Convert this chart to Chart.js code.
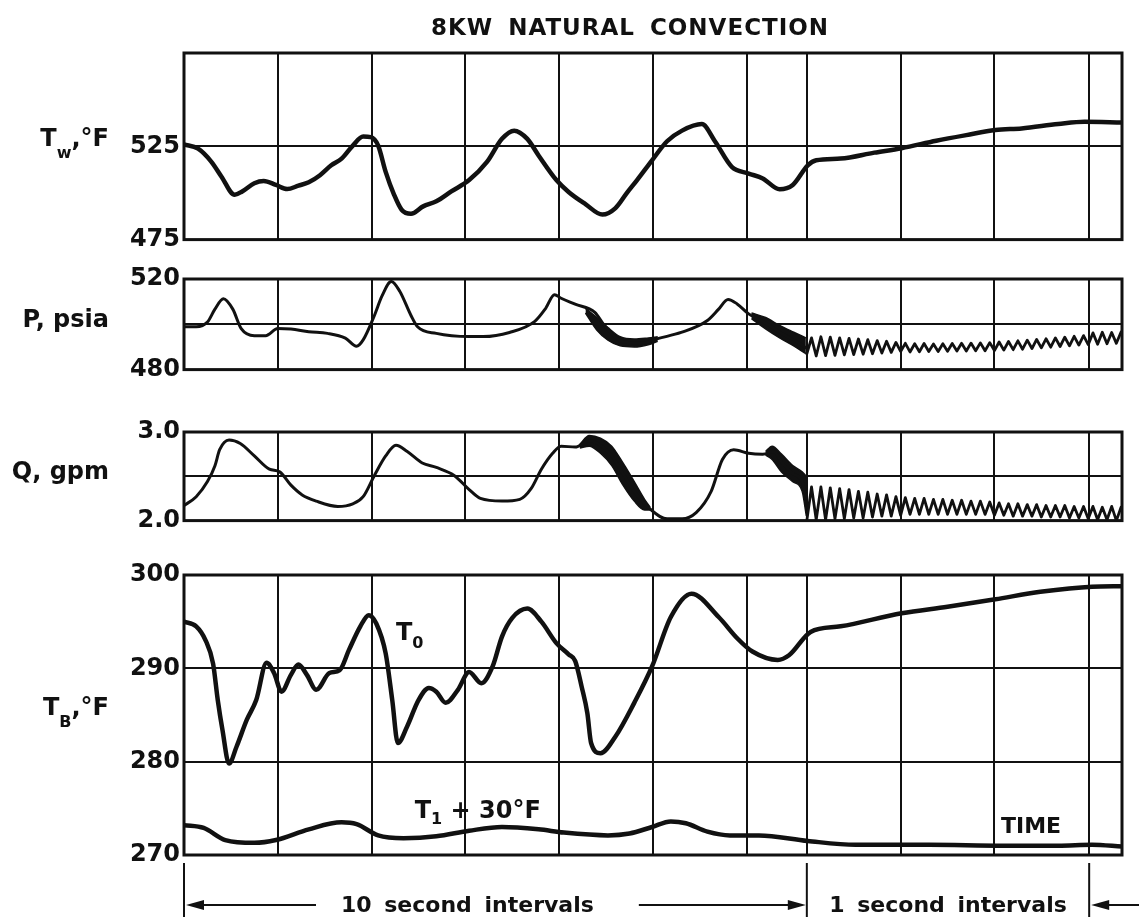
<!DOCTYPE html>
<html>
<head>
<meta charset="utf-8">
<title>8KW Natural Convection</title>
<script src="https://cdn.jsdelivr.net/npm/chart.js@4.4.1/dist/chart.umd.min.js"></script>
<style>
  html, body { margin: 0; padding: 0; background: #fff; }
  #sheet { position: relative; width: 1139px; height: 917px; overflow: hidden; background: #fff; }
  #sheet canvas { position: absolute; left: 0; }
</style>
</head>
<body>
<div id="sheet">
  <canvas id="twChart" width="1139" height="258" style="top:0px"></canvas>
  <canvas id="pChart" width="1139" height="132" style="top:256px"></canvas>
  <canvas id="qChart" width="1139" height="134" style="top:405px"></canvas>
  <canvas id="tbChart" width="1139" height="372" style="top:545px"></canvas>
</div>
<script>
// x is measured in recorder divisions: 0..6.64 runs at 10 s per division,
// 6.64..10 at 1 s per division
const xGrid = [0, 1, 2, 3, 4, 5, 6, 6.64, 7.64, 8.64, 9.65, 10];

// wall temperature, deg F
const twTrace = [
  [0, 526], [0.15, 523.7], [0.29, 516.8], [0.40, 508.7], [0.54, 499], [0.62, 500.8],
  [0.75, 505.2], [0.85, 506.4], [0.98, 504.3], [1.10, 502.1], [1.22, 503.9], [1.33, 505.7],
  [1.45, 509.5], [1.57, 514.8], [1.68, 518.4], [1.80, 525.4], [1.91, 530.2], [1.99, 529.9],
  [2.07, 525.4], [2.15, 511.3], [2.24, 499], [2.32, 491], [2.42, 488.8], [2.55, 492.8],
  [2.69, 495.5], [2.85, 500.8], [3.04, 506.9], [3.23, 516.6], [3.39, 529], [3.52, 533.4],
  [3.66, 529], [3.78, 520.1], [3.97, 506.9], [4.10, 500.5], [4.28, 494], [4.46, 488.4],
  [4.60, 491.9], [4.72, 499.9], [4.83, 506.9], [4.99, 517.5], [5.15, 527.7], [5.31, 533.4],
  [5.52, 536.9], [5.66, 527.7], [5.84, 514], [6.02, 510.4], [6.17, 507.8], [6.35, 502],
  [6.49, 504.3], [6.65, 514.8], [6.74, 517.5], [7.0, 518.4], [7.36, 521.6], [7.65, 524],
  [8.02, 528], [8.34, 531], [8.65, 533.7], [8.93, 534.6], [9.32, 536.9], [9.60, 538.1], [10, 537.8]
];

// pressure, psia
const pressureSlow = [
  [0, 498.9], [0.13, 498.9], [0.25, 501], [0.33, 506.7], [0.42, 511.3], [0.52, 506.7],
  [0.61, 498.1], [0.75, 495], [0.87, 495], [1.0, 498.1], [1.14, 497.9], [1.33, 496.7],
  [1.53, 496], [1.72, 493.9], [1.84, 490.3], [1.91, 493.1], [2.03, 503.9], [2.11, 512.4],
  [2.21, 518.9], [2.30, 514.6], [2.42, 503.9], [2.49, 498.9], [2.69, 496], [3.04, 494.6],
  [3.19, 494.6], [3.47, 496.4], [3.74, 501.3], [3.85, 506.7], [3.95, 513.1], [4.02, 511.5],
  [4.17, 508.9], [4.38, 505.3], [4.48, 499.6], [4.67, 492.4], [4.87, 491.7], [5.07, 493.9],
  [5.30, 496.4], [5.58, 501.7], [5.70, 506.7], [5.80, 511], [5.90, 508.9], [6.02, 504.6],
  [6.21, 500.3], [6.37, 496], [6.53, 492.4], [6.63, 489.6]
];
const pressureFast = [
  [6.64, 487.0], [6.69, 494.0], [6.74, 486.0], [6.79, 494.5], [6.84, 486.2], [6.89, 494.3],
  [6.94, 486.3], [6.99, 494.0], [7.04, 486.5], [7.09, 493.8], [7.14, 486.6], [7.19, 493.5],
  [7.24, 486.8], [7.29, 493.2], [7.34, 487.0], [7.39, 492.8], [7.44, 487.3], [7.49, 492.5],
  [7.54, 487.6], [7.59, 492.0], [7.64, 488.0], [7.69, 491.6], [7.74, 487.8], [7.79, 491.4],
  [7.84, 487.9], [7.89, 491.5], [7.94, 488.0], [7.99, 491.3], [8.04, 488.0], [8.09, 491.4],
  [8.14, 488.1], [8.19, 491.5], [8.24, 488.2], [8.29, 491.6], [8.34, 488.2], [8.39, 491.7],
  [8.44, 488.3], [8.49, 491.8], [8.54, 488.3], [8.59, 491.9], [8.64, 488.4], [8.69, 492.2],
  [8.74, 488.6], [8.79, 492.4], [8.84, 488.8], [8.89, 492.7], [8.94, 489.0], [8.99, 493.0],
  [9.04, 489.3], [9.09, 493.3], [9.14, 489.6], [9.19, 493.6], [9.24, 489.9], [9.29, 494.0],
  [9.34, 490.2], [9.39, 494.3], [9.44, 490.5], [9.49, 494.7], [9.54, 490.8], [9.59, 495.0],
  [9.64, 491.0], [9.69, 496.2], [9.74, 491.2], [9.79, 496.5], [9.84, 491.4], [9.89, 496.4],
  [9.94, 491.6], [9.99, 496.6]
];
// smeared stretches of the pressure trace: [x, low, high]
const pressureNoise = [
  [[4.28, 505, 507], [4.40, 497.5, 503], [4.52, 493, 498.5], [4.65, 490.5, 494.5],
   [4.80, 490, 493.5], [4.95, 491, 494], [5.05, 492.5, 494.5]],
  [[6.05, 502.5, 505], [6.20, 498, 503], [6.35, 494, 499.5], [6.50, 490.5, 496.5], [6.63, 487, 494]]
];

// flow, gpm
const flowSlow = [
  [0, 2.17], [0.13, 2.27], [0.25, 2.44], [0.33, 2.62], [0.38, 2.80], [0.48, 2.91],
  [0.60, 2.87], [0.75, 2.73], [0.91, 2.58], [1.02, 2.55], [1.14, 2.40], [1.26, 2.29],
  [1.41, 2.22], [1.64, 2.16], [1.80, 2.19], [1.91, 2.27], [2.03, 2.51], [2.15, 2.73],
  [2.26, 2.85], [2.38, 2.78], [2.54, 2.65], [2.69, 2.60], [2.88, 2.51], [3.04, 2.35],
  [3.16, 2.25], [3.39, 2.22], [3.58, 2.24], [3.70, 2.36], [3.81, 2.58], [3.93, 2.76],
  [4.02, 2.84], [4.17, 2.83], [4.32, 2.90], [4.44, 2.85], [4.56, 2.73], [4.68, 2.53],
  [4.80, 2.33], [4.95, 2.15], [5.15, 2.02], [5.31, 2.02], [5.46, 2.09], [5.62, 2.33],
  [5.74, 2.69], [5.86, 2.80], [6.02, 2.76], [6.17, 2.75], [6.29, 2.78], [6.37, 2.66],
  [6.49, 2.53], [6.59, 2.44], [6.63, 2.25]
];
const flowFast = [
  [6.64, 2.00], [6.69, 2.38], [6.74, 2.01], [6.79, 2.38], [6.84, 2.01], [6.89, 2.37],
  [6.94, 2.02], [6.99, 2.36], [7.04, 2.02], [7.09, 2.35], [7.14, 2.03], [7.19, 2.33],
  [7.24, 2.03], [7.29, 2.32], [7.34, 2.04], [7.39, 2.30], [7.44, 2.05], [7.49, 2.29],
  [7.54, 2.05], [7.59, 2.27], [7.64, 2.06], [7.69, 2.26], [7.74, 2.07], [7.79, 2.25],
  [7.84, 2.07], [7.89, 2.25], [7.94, 2.07], [7.99, 2.24], [8.04, 2.07], [8.09, 2.24],
  [8.14, 2.07], [8.19, 2.23], [8.24, 2.07], [8.29, 2.23], [8.34, 2.07], [8.39, 2.22],
  [8.44, 2.07], [8.49, 2.22], [8.54, 2.07], [8.59, 2.21], [8.64, 2.06], [8.69, 2.20],
  [8.74, 2.06], [8.79, 2.19], [8.84, 2.05], [8.89, 2.19], [8.94, 2.05], [8.99, 2.18],
  [9.04, 2.05], [9.09, 2.18], [9.14, 2.04], [9.19, 2.17], [9.24, 2.04], [9.29, 2.17],
  [9.34, 2.04], [9.39, 2.17], [9.44, 2.03], [9.49, 2.16], [9.54, 2.03], [9.59, 2.16],
  [9.64, 2.02], [9.69, 2.16], [9.74, 2.01], [9.79, 2.15], [9.84, 2.01], [9.89, 2.16],
  [9.94, 2.00], [9.99, 2.15]
];
const flowNoise = [
  [[4.22, 2.82, 2.86], [4.32, 2.84, 2.96], [4.44, 2.76, 2.93], [4.56, 2.62, 2.84],
   [4.68, 2.40, 2.65], [4.80, 2.22, 2.44], [4.91, 2.12, 2.24], [4.97, 2.12, 2.15]],
  [[6.20, 2.74, 2.78], [6.27, 2.69, 2.84], [6.37, 2.55, 2.75], [6.49, 2.44, 2.62],
   [6.59, 2.33, 2.55], [6.635, 2.05, 2.50]]
];

// bulk temperatures, deg F
const outletTrace = [
  [0, 295.0], [0.13, 294.5], [0.23, 293.0], [0.31, 290.5], [0.36, 286.6], [0.41, 283.4],
  [0.48, 279.8], [0.56, 281.6], [0.67, 284.5], [0.77, 286.6], [0.88, 290.6], [0.96, 289.5],
  [1.04, 287.5], [1.14, 289.3], [1.22, 290.4], [1.31, 289.3], [1.41, 287.7], [1.55, 289.5],
  [1.66, 289.8], [1.76, 292.0], [1.88, 294.5], [1.97, 295.7], [2.05, 294.8], [2.15, 291.6],
  [2.22, 286.6], [2.28, 282.0], [2.38, 283.8], [2.50, 286.6], [2.61, 287.9], [2.69, 287.5],
  [2.79, 286.3], [2.92, 287.7], [3.04, 289.6], [3.17, 288.4], [3.29, 290.2], [3.39, 293.4],
  [3.50, 295.4], [3.66, 296.4], [3.81, 295.0], [3.97, 292.7], [4.10, 291.5], [4.17, 290.8],
  [4.24, 288.0], [4.30, 285.2], [4.34, 282.0], [4.44, 280.9], [4.60, 282.7], [4.80, 286.3],
  [4.99, 290.2], [5.19, 295.5], [5.41, 298.0], [5.70, 295.5], [5.90, 293.2], [6.06, 291.8],
  [6.33, 290.9], [6.45, 291.4], [6.68, 293.9], [7.0, 294.5], [7.65, 295.9], [8.14, 296.6],
  [8.65, 297.4], [9.13, 298.2], [9.68, 298.75], [10, 298.8]
];
const inletPlus30 = [
  [0, 273.2], [0.21, 272.9], [0.44, 271.6], [0.75, 271.3], [0.98, 271.6], [1.33, 272.75],
  [1.68, 273.5], [1.84, 273.3], [2.07, 272.1], [2.34, 271.8], [2.69, 272.0], [3.04, 272.6],
  [3.39, 273.0], [3.78, 272.75], [4.05, 272.4], [4.52, 272.1], [4.75, 272.3], [4.99, 273.0],
  [5.19, 273.6], [5.35, 273.4], [5.58, 272.5], [5.82, 272.1], [6.13, 272.1], [6.65, 271.5],
  [7.16, 271.1], [7.94, 271.1], [8.73, 271.0], [9.32, 271.0], [9.68, 271.1], [10, 270.9]
];

// y ticks and their printed labels
const twTicks = [475, 525, 575];
const twTickLabels = ['475', '525', ''];
const pTicks = [480, 500, 520];
const pTickLabels = ['480', '', '520'];
const qTicks = [2, 2.5, 3];
const qTickLabels = ['2.0', '', '3.0'];
const tbTicks = [270, 280, 290, 300];
const tbTickLabels = ['270', '280', '290', '300'];

const INK = '#111';
const FONT = '"DejaVu Sans", "Liberation Sans", sans-serif';

function pts(arr) {
  return arr.map(([x, y]) => ({ x, y }));
}

function trace(arr, width, smooth) {
  return {
    data: pts(arr),
    borderColor: INK,
    borderWidth: width,
    borderCapStyle: 'round',
    borderJoinStyle: 'round',
    pointRadius: 0,
    fill: false,
    tension: 0,
    cubicInterpolationMode: smooth ? 'monotone' : 'default'
  };
}

// upper/lower edge pair filled between, one pair per smeared stretch
function smear(segments) {
  const sets = [];
  segments.forEach(seg => {
    sets.push({
      data: seg.map(([x, lo, hi]) => ({ x, y: hi })),
      borderColor: INK, borderWidth: 1.5, pointRadius: 0, fill: false,
      cubicInterpolationMode: 'monotone'
    });
    sets.push({
      data: seg.map(([x, lo]) => ({ x, y: lo })),
      borderColor: INK, borderWidth: 1.5, pointRadius: 0, fill: '-1',
      backgroundColor: INK, cubicInterpolationMode: 'monotone'
    });
  });
  return sets;
}

// text with subscripts: parts = [[text, isSub], ...]
function drawRich(ctx, parts, x, y, align, size, subDrop) {
  const main = `bold ${size}px ${FONT}`;
  const sub = `bold ${Math.round(size * 0.65)}px ${FONT}`;
  ctx.save();
  ctx.fillStyle = INK;
  ctx.textAlign = 'left';
  ctx.textBaseline = 'alphabetic';
  let w = 0;
  parts.forEach(([t, s]) => { ctx.font = s ? sub : main; w += ctx.measureText(t).width; });
  let cx = align === 'right' ? x - w : align === 'center' ? x - w / 2 : x;
  parts.forEach(([t, s]) => {
    ctx.font = s ? sub : main;
    ctx.fillText(t, cx, s ? y + subDrop : y);
    cx += ctx.measureText(t).width;
  });
  ctx.restore();
}

function arrow(ctx, from, to, y) {
  const dir = Math.sign(to - from);
  ctx.beginPath();
  ctx.moveTo(from, y);
  ctx.lineTo(to - dir * 12, y);
  ctx.stroke();
  ctx.beginPath();
  ctx.moveTo(to, y);
  ctx.lineTo(to - dir * 18, y - 5);
  ctx.lineTo(to - dir * 18, y + 5);
  ctx.closePath();
  ctx.fill();
}

const frame = {
  id: 'frame',
  afterDraw(chart) {
    const { ctx, chartArea: a } = chart;
    ctx.save();
    ctx.strokeStyle = INK;
    ctx.lineWidth = 3;
    ctx.strokeRect(a.left, a.top, a.right - a.left, a.bottom - a.top);
    ctx.restore();
  }
};

function panel(id, cfg) {
  return new Chart(document.getElementById(id), {
    type: 'line',
    data: { datasets: cfg.datasets },
    options: {
      responsive: false,
      animation: false,
      events: [],
      layout: { padding: { left: 0, right: 17, top: cfg.padTop, bottom: cfg.padBottom } },
      plugins: { legend: { display: false }, tooltip: { enabled: false } },
      scales: {
        x: {
          type: 'linear', min: 0, max: 10,
          afterBuildTicks: s => { s.ticks = xGrid.map(v => ({ value: v })); },
          afterFit: s => { s.height = 0; },
          ticks: { display: false },
          grid: { color: INK, lineWidth: 2, drawTicks: false },
          border: { display: false }
        },
        y: {
          type: 'linear', min: cfg.ticks[0], max: cfg.ticks[cfg.ticks.length - 1],
          afterBuildTicks: s => { s.ticks = cfg.ticks.map(v => ({ value: v })); },
          afterFit: s => { s.width = 184; },
          ticks: {
            autoSkip: false, padding: 4, color: INK,
            font: { family: FONT, size: 24, weight: 'bold' },
            callback: (v, i) => cfg.labels[i]
          },
          grid: { color: INK, lineWidth: 2, drawTicks: false },
          border: { display: false }
        }
      }
    },
    plugins: [frame, {
      id: id + 'Notes',
      afterDraw(chart) {
        const y = chart.scales.y.getPixelForValue(cfg.nameAt);
        drawRich(chart.ctx, cfg.name, chart.chartArea.left - 75, y, 'right', 24, 12);
        if (cfg.extra) cfg.extra(chart);
      }
    }]
  });
}

panel('twChart', {
  padTop: 53, padBottom: 16,
  ticks: twTicks, labels: twTickLabels,
  name: [['T', false], ['w', true], [',°F', false]], nameAt: 525,
  datasets: [trace(twTrace, 4.5, true)],
  extra(chart) {
    const { ctx, chartArea: a } = chart;
    ctx.save();
    ctx.fillStyle = INK;
    ctx.font = `bold 23px ${FONT}`;
    ctx.textAlign = 'center';
    ctx.letterSpacing = '1px';
    ctx.wordSpacing = '6px';
    ctx.fillText('8KW NATURAL CONVECTION', a.left + 446, 35);
    ctx.restore();
  }
});

panel('pChart', {
  padTop: 23, padBottom: 16,
  ticks: pTicks, labels: pTickLabels,
  name: [['P, psia', false]], nameAt: 499,
  datasets: [trace(pressureSlow, 3, true), trace(pressureFast, 2.8, false), ...smear(pressureNoise)]
});

panel('qChart', {
  padTop: 27, padBottom: 16,
  ticks: qTicks, labels: qTickLabels,
  name: [['Q, gpm', false]], nameAt: 2.47,
  datasets: [trace(flowSlow, 3, true), trace(flowFast, 2.8, false), ...smear(flowNoise)]
});

panel('tbChart', {
  padTop: 30, padBottom: 62,
  ticks: tbTicks, labels: tbTickLabels,
  name: [['T', false], ['B', true], [',°F', false]], nameAt: 285,
  datasets: [trace(outletTrace, 4.5, true), trace(inletPlus30, 4.5, true)],
  extra(chart) {
    const { ctx, chartArea: a } = chart;
    const x = chart.scales.x, y = chart.scales.y;
    drawRich(ctx, [['T', false], ['0', true]], x.getPixelForValue(2.26), y.getPixelForValue(293), 'left', 24, 8);
    drawRich(ctx, [['T', false], ['1', true], [' + 30°F', false]], x.getPixelForValue(2.46), y.getPixelForValue(274), 'left', 24, 6);
    drawRich(ctx, [['TIME', false]], x.getPixelForValue(8.71), y.getPixelForValue(272.4), 'left', 22, 0);

    // section markers and interval notes under the time axis
    const p0 = x.getPixelForValue(0), p1 = x.getPixelForValue(xGrid[7]), p2 = x.getPixelForValue(xGrid[10]);
    const bottom = chart.height;
    const ay = a.bottom + 50;
    ctx.save();
    ctx.strokeStyle = INK;
    ctx.fillStyle = INK;
    ctx.lineWidth = 2;
    [p0, p1, p2].forEach(p => {
      ctx.beginPath();
      ctx.moveTo(p, a.bottom + 8);
      ctx.lineTo(p, bottom);
      ctx.stroke();
    });
    arrow(ctx, p0 + 132, p0 + 2, ay);
    arrow(ctx, p1 - 168, p1 - 1, ay);
    arrow(ctx, chart.width, p2 + 2, ay);
    ctx.font = `bold 22px ${FONT}`;
    ctx.textAlign = 'center';
    ctx.textBaseline = 'alphabetic';
    ctx.wordSpacing = '5px';
    ctx.fillText('10 second intervals', p0 + 0.455 * (p1 - p0), a.bottom + 57);
    ctx.fillText('1 second intervals', (p1 + p2) / 2, a.bottom + 57);
    ctx.restore();
  }
});
</script>
</body>
</html>
